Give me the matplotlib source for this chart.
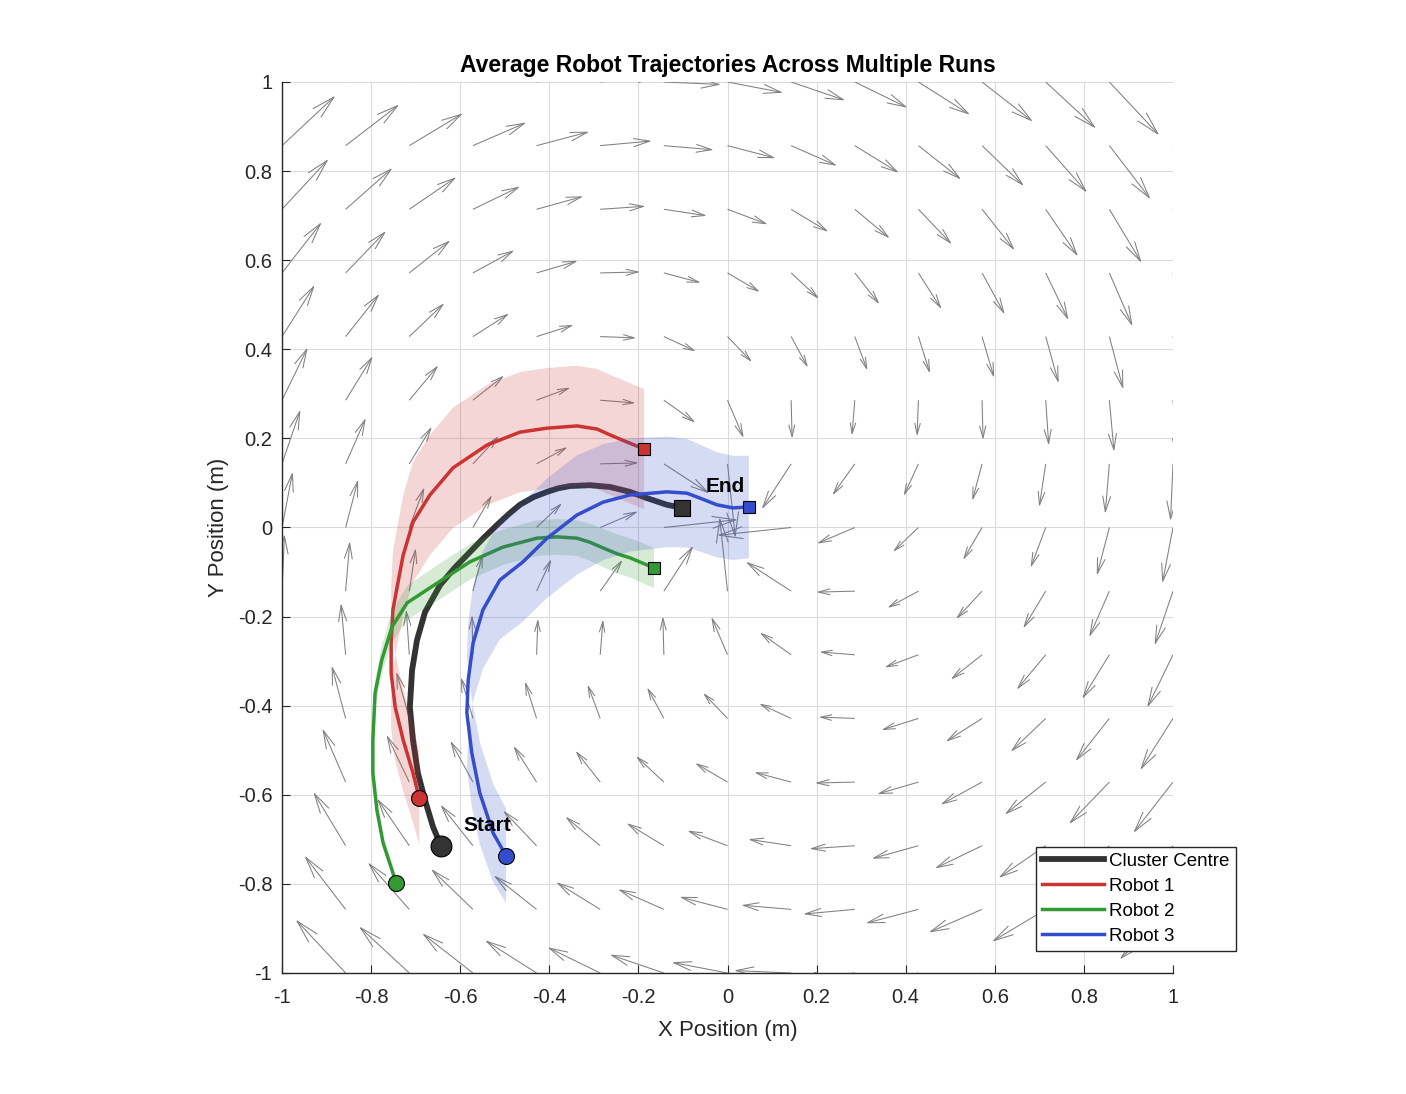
import numpy as np
import matplotlib
matplotlib.use("Agg")
import matplotlib.pyplot as plt
from matplotlib.collections import LineCollection
from matplotlib.lines import Line2D

plt.rcParams["font.family"] = ["Liberation Sans", "DejaVu Sans"]

# ---- background flow field (clockwise swirl + inward pull toward origin) ----
GRID_N = 15
SWIRL = 0.1205      # tangential speed per unit radius
SINK = 0.0231       # inward speed * radius

# ---- mean trajectories ----
cluster_x = [-0.643, -0.661, -0.679, -0.695, -0.706, -0.713, -0.708, -0.697, -0.679,
             -0.645, -0.612, -0.578, -0.548, -0.517, -0.490, -0.466, -0.436, -0.405,
             -0.380, -0.354, -0.309, -0.264, -0.219, -0.181, -0.136, -0.102]
cluster_y = [-0.715, -0.672, -0.612, -0.551, -0.477, -0.403, -0.320, -0.253, -0.190,
             -0.129, -0.090, -0.055, -0.024, 0.006, 0.031, 0.051, 0.068, 0.080,
             0.088, 0.093, 0.095, 0.091, 0.080, 0.066, 0.051, 0.044]

r1_x = [-0.692, -0.706, -0.728, -0.746, -0.755, -0.755, -0.751, -0.742, -0.728, -0.706,
        -0.668, -0.616, -0.540, -0.466, -0.405, -0.338, -0.293, -0.264, -0.226, -0.187]
r1_y = [-0.607, -0.551, -0.477, -0.403, -0.327, -0.259, -0.185, -0.136, -0.062, 0.012,
        0.073, 0.134, 0.185, 0.214, 0.223, 0.228, 0.221, 0.208, 0.192, 0.176]
r1_sd = [0.105, 0.110, 0.115, 0.120, 0.124, 0.127, 0.130, 0.132, 0.134, 0.135,
         0.135, 0.135, 0.135, 0.135, 0.135, 0.135, 0.135, 0.135, 0.135, 0.135]

r2_x = [-0.744, -0.753, -0.773, -0.787, -0.796, -0.796, -0.791, -0.776, -0.753, -0.719,
        -0.652, -0.578, -0.504, -0.428, -0.383, -0.338, -0.309, -0.279, -0.248, -0.219,
        -0.181, -0.165]
r2_y = [-0.798, -0.769, -0.708, -0.634, -0.551, -0.477, -0.371, -0.297, -0.223, -0.169,
        -0.125, -0.077, -0.044, -0.024, -0.021, -0.024, -0.033, -0.046, -0.059, -0.068,
        -0.084, -0.091]
r2_sd = [0.008, 0.010, 0.012, 0.015, 0.018, 0.022, 0.027, 0.032, 0.036, 0.038,
         0.040, 0.040, 0.040, 0.040, 0.040, 0.040, 0.042, 0.043, 0.044, 0.044,
         0.045, 0.045]

r3_x = [-0.497, -0.526, -0.556, -0.574, -0.585, -0.582, -0.571, -0.549, -0.511, -0.459,
        -0.405, -0.338, -0.279, -0.219, -0.136, -0.091, -0.062, -0.024, 0.012, 0.048]
r3_y = [-0.737, -0.686, -0.596, -0.506, -0.416, -0.342, -0.259, -0.185, -0.118, -0.077,
        -0.024, 0.028, 0.057, 0.073, 0.080, 0.077, 0.066, 0.051, 0.044, 0.046]
r3_sd = [0.106, 0.110, 0.115, 0.120, 0.124, 0.127, 0.130, 0.132, 0.133, 0.134,
         0.134, 0.134, 0.130, 0.127, 0.124, 0.122, 0.120, 0.118, 0.117, 0.115]

ROBOTS = [
    ("Robot 1", r1_x, r1_y, r1_sd, (0.80, 0.20, 0.20)),
    ("Robot 2", r2_x, r2_y, r2_sd, (0.20, 0.60, 0.20)),
    ("Robot 3", r3_x, r3_y, r3_sd, (0.20, 0.30, 0.80)),
]
CLUSTER_COLOR = (0.2, 0.2, 0.2)
AX_COLOR = (0.15, 0.15, 0.15)


def quiver_segments(x, y, u, v, alpha=0.33, beta=0.25):
    """MATLAB-style open arrowheads: shaft plus a V at the tip."""
    segs = []
    for x0, y0, du, dv in zip(x, y, u, v):
        tx, ty = x0 + du, y0 + dv
        segs.append([(x0, y0), (tx, ty)])
        segs.append([(tx - alpha * (du + beta * dv), ty - alpha * (dv - beta * du)),
                     (tx, ty),
                     (tx - alpha * (du - beta * dv), ty - alpha * (dv + beta * du))])
    return segs


def main():
    fig = plt.figure(figsize=(14.06, 10.94), dpi=100)
    ax = fig.add_axes([282 / 1406, 1 - 973 / 1094, 891 / 1406, 891 / 1094])

    # flow field
    g = np.linspace(-1, 1, GRID_N)
    gx, gy = np.meshgrid(g, g)
    r2 = gx ** 2 + gy ** 2
    ok = r2 > 1e-9
    gx, gy, r2 = gx[ok], gy[ok], r2[ok]
    u = SWIRL * gy - SINK * gx / r2
    v = -SWIRL * gx - SINK * gy / r2
    ax.add_collection(LineCollection(quiver_segments(gx, gy, u, v),
                                     colors=[(0.5, 0.5, 0.5)], linewidths=0.75, zorder=1))

    # cluster centre path (under the bands)
    ax.plot(cluster_x, cluster_y, color=CLUSTER_COLOR, lw=4.2, zorder=2,
            solid_capstyle="round", solid_joinstyle="round")

    for name, xs, ys, sd, col in ROBOTS:
        xs, ys, sd = np.asarray(xs), np.asarray(ys), np.asarray(sd)
        ax.fill(np.r_[xs, xs[::-1]], np.r_[ys + sd, (ys - sd)[::-1]],
                color=col, alpha=0.2, lw=0, zorder=2)
        ax.plot(xs, ys, color=col, lw=2.5, zorder=2,
                solid_capstyle="round", solid_joinstyle="round")

    # start / end markers on top
    ax.plot(cluster_x[0], cluster_y[0], "o", ms=15, mfc=CLUSTER_COLOR, mec="k", mew=0.8, zorder=5)
    ax.plot(cluster_x[-1], cluster_y[-1], "s", ms=12, mfc=CLUSTER_COLOR, mec="k", mew=0.8, zorder=5)
    for name, xs, ys, sd, col in ROBOTS:
        ax.plot(xs[0], ys[0], "o", ms=11.5, mfc=col, mec="k", mew=0.8, zorder=5)
        ax.plot(xs[-1], ys[-1], "s", ms=9, mfc=col, mec="k", mew=0.8, zorder=5)

    ax.text(-0.540, -0.668, "Start", fontsize=15, fontweight="bold", ha="center", va="center", zorder=6)
    ax.text(-0.006, 0.091, "End", fontsize=15, fontweight="bold", ha="center", va="center", zorder=6)

    # axes styling, MATLAB look
    ticks = np.round(np.arange(-1, 1.01, 0.2), 1)
    labels = ["0" if t == 0 else ("%g" % t) for t in ticks]
    ax.set_xlim(-1, 1)
    ax.set_ylim(-1, 1)
    ax.set_xticks(ticks)
    ax.set_xticklabels(labels)
    ax.set_yticks(ticks)
    ax.set_yticklabels(labels)
    ax.tick_params(direction="in", length=6, width=0.8, colors=AX_COLOR, labelsize=14.5, pad=7)
    ax.tick_params(axis="x", pad=11)
    ax.grid(True, color=(0.86, 0.86, 0.86), lw=0.8)
    ax.set_axisbelow(True)
    for side in ("top", "right"):
        ax.spines[side].set_visible(False)
    for side in ("left", "bottom"):
        ax.spines[side].set_color(AX_COLOR)
        ax.spines[side].set_linewidth(1.0)

    ax.set_xlabel("X Position (m)", fontsize=16, color=AX_COLOR, labelpad=9)
    ax.set_ylabel("Y Position (m)", fontsize=16, color=AX_COLOR, labelpad=6)
    ax.set_title("Average Robot Trajectories Across Multiple Runs", fontsize=16.5,
                 fontweight="bold", pad=7)

    handles = [Line2D([], [], color=CLUSTER_COLOR, lw=4.2)]
    handles += [Line2D([], [], color=col, lw=2.5) for _, _, _, _, col in ROBOTS]
    names = ["Cluster Centre"] + [r[0] for r in ROBOTS]
    leg = ax.legend(handles, names, loc="upper left",
                    bbox_to_anchor=(1035.7 / 1406, 1 - 846.7 / 1094),
                    bbox_transform=fig.transFigure, borderaxespad=0,
                    fontsize=13.5, fancybox=False, framealpha=1, edgecolor=AX_COLOR,
                    handlelength=3.3, handletextpad=0.3, labelspacing=0.42,
                    borderpad=0.33)
    leg.get_frame().set_linewidth(1.0)
    leg.set_zorder(10)

    fig.savefig("out.png", dpi=100)


if __name__ == "__main__":
    main()
